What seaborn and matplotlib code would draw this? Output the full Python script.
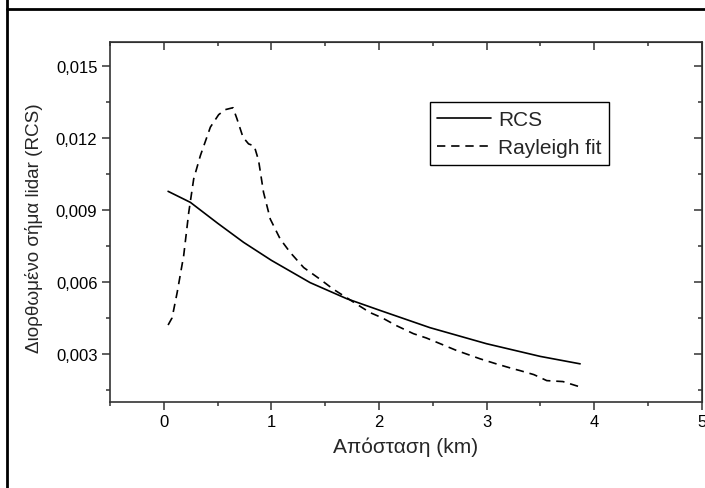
import matplotlib
matplotlib.use("Agg")
import matplotlib.pyplot as plt
import seaborn as sns
import numpy as np
from matplotlib.ticker import MultipleLocator, FuncFormatter
from matplotlib.lines import Line2D

# solid curve (RCS)
rcs_x = [0.04, 0.247, 0.5, 0.742, 1.0, 1.36, 1.7, 2.01, 2.474, 3.0, 3.5, 3.87]
rcs_y = [0.00978, 0.00932, 0.00845, 0.00765, 0.0069, 0.00597, 0.0053, 0.00481,
         0.00409, 0.00342, 0.00289, 0.00258]

# dashed curve (Rayleigh fit)
ray_x = [0.04, 0.077, 0.124, 0.185, 0.232, 0.278, 0.34, 0.433, 0.51, 0.572, 0.643,
         0.68, 0.736, 0.788, 0.841, 0.881, 0.927, 0.99, 1.082, 1.175, 1.3, 1.453,
         1.577, 1.7, 1.793, 1.917, 2.03, 2.16, 2.32, 2.44, 2.57, 2.72, 2.94, 3.09,
         3.25, 3.31, 3.44, 3.56, 3.71, 3.86]
ray_y = [0.0042, 0.0045, 0.00555, 0.0071, 0.0089, 0.0103, 0.01127, 0.01246, 0.01298,
         0.01319, 0.01327, 0.01281, 0.01204, 0.01176, 0.01167, 0.01107, 0.00974,
         0.00862, 0.00779, 0.00723, 0.0066, 0.00611, 0.00569, 0.00534, 0.00507,
         0.00472, 0.0045, 0.00418, 0.00384, 0.00366, 0.00342, 0.00314, 0.00279,
         0.00258, 0.00237, 0.0023, 0.00213, 0.00188, 0.00184, 0.00163]

sns.set_style("ticks")
plt.rcParams['font.family'] = ['Liberation Sans', 'DejaVu Sans']

fig = plt.figure(figsize=(7.05, 4.89), dpi=100)
ax = fig.add_axes([110 / 705, 1 - 402.7 / 489, 591.7 / 705, 359.4 / 489])

sns.lineplot(x=rcs_x, y=rcs_y, ax=ax, color='black', lw=1.2, label='RCS',
             sort=False, estimator=None)
sns.lineplot(x=ray_x, y=ray_y, ax=ax, color='black', lw=1.2, label='Rayleigh fit',
             sort=False, estimator=None, linestyle=(0, (5, 3.5)))

ax.set_xlim(-0.5, 5)
ax.set_ylim(0.001, 0.016)
ax.xaxis.set_major_locator(MultipleLocator(1))
ax.xaxis.set_minor_locator(MultipleLocator(0.5))
ax.yaxis.set_major_locator(MultipleLocator(0.003))
ax.yaxis.set_minor_locator(MultipleLocator(0.0015))
ax.yaxis.set_major_formatter(FuncFormatter(lambda v, p: ('%.3f' % v).replace('.', ',')))
ax.xaxis.set_major_formatter(FuncFormatter(lambda v, p: '%d' % round(v)))

for s in ax.spines.values():
    s.set_linewidth(1.2)
    s.set_color('#333333')

ax.tick_params(which='both', direction='out', labelsize=12, colors='#333333',
               labelcolor='black', width=1.1)
ax.tick_params(which='major', length=6, pad=3)
ax.tick_params(which='minor', length=3)

# top and right ticks point inward
top = ax.secondary_xaxis('top')
top.xaxis.set_major_locator(MultipleLocator(1))
top.xaxis.set_minor_locator(MultipleLocator(0.5))
top.tick_params(which='both', direction='in', labeltop=False, width=1.1, colors='#333333')
top.tick_params(which='major', length=6)
top.tick_params(which='minor', length=3)
right = ax.secondary_yaxis('right')
right.yaxis.set_major_locator(MultipleLocator(0.003))
right.yaxis.set_minor_locator(MultipleLocator(0.0015))
right.tick_params(which='both', direction='in', labelright=False, width=1.1, colors='#333333')
right.tick_params(which='major', length=6)
right.tick_params(which='minor', length=3)

ax.set_xlabel('Απόσταση (km)', fontsize=15, labelpad=5)
ax.set_ylabel('Διορθωμένο σήμα lidar (RCS)', fontsize=13.6)
ax.yaxis.set_label_coords(-0.113, 0.486)

leg = ax.legend(loc='upper left', bbox_to_anchor=(0.54, 0.833), borderaxespad=0,
                fontsize=15, frameon=True, fancybox=False, edgecolor='black',
                framealpha=1, handlelength=2.55, handletextpad=0.35,
                borderpad=0.38, labelspacing=0.43)
leg.get_frame().set_linewidth(1.0)

# outer frame lines of the page
fig.add_artist(Line2D([6.5 / 705, 6.5 / 705], [0, 1], color='black', lw=2,
                      transform=fig.transFigure))
fig.add_artist(Line2D([6.5 / 705, 1], [1 - 10 / 489, 1 - 10 / 489], color='black',
                      lw=2, transform=fig.transFigure))

fig.savefig('out.png', dpi=100)
